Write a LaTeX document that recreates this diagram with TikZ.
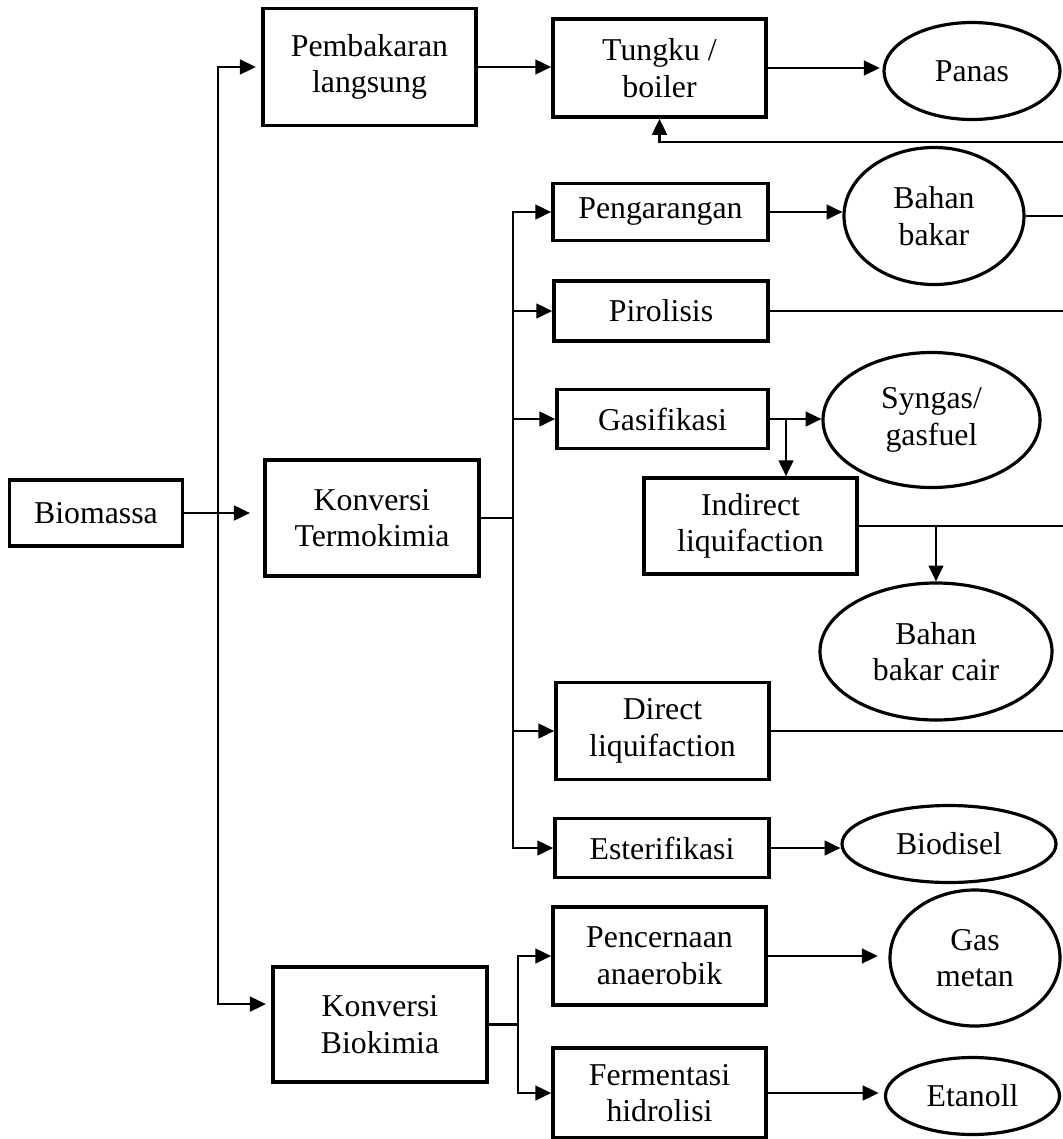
\documentclass[tikz,border=0pt]{standalone}
\usepackage{fontspec}
\setmainfont{Liberation Serif}
\usetikzlibrary{arrows.meta,positioning,shapes.geometric,calc}

\begin{document}
\begin{tikzpicture}[x=0.3774pt, y=-0.3774pt,
    box/.style 2 args={draw, line width=1.4pt, align=center, inner sep=0pt,
        minimum width=#1*0.3774pt, minimum height=#2*0.3774pt,
        font=\fontsize{12}{13.8}\selectfont},
    product/.style 2 args={draw, ellipse, line width=1.2pt, align=center, inner sep=0pt,
        minimum width=#1*0.3774pt, minimum height=#2*0.3774pt,
        font=\fontsize{12}{13.8}\selectfont},
    arr/.style={-{Triangle[length=6pt,width=5.6pt]}, line width=0.8pt},
    link/.style={line width=0.8pt}]
\useasboundingbox (0,0) rectangle (1063,1139);

% Source and main routes
\node[box={173}{66}] (bio) at (96,513) {Biomassa};
\node[box={213}{117}] (pl) at (369.5,67) {Pembakaran\\langsung};
\node[box={214}{116}] (kt) at (372,518) {Konversi\\Termokimia};
\node[box={214}{115}] (kb) at (380,1024.5) {Konversi\\Biokimia};

% Processes
\node[box={213}{98}] (tb) at (659.5,68) {Tungku /\\boiler};
\node[box={215}{57}] (peng) at (660.5,212) {Pengarangan};
\node[box={214}{60}] (pir) at (661,311) {Pirolisis};
\node[box={211}{59}] (gas) at (662.5,419) {Gasifikasi};
\node[box={213}{96}] (il) at (750.5,526) {Indirect\\liquifaction};
\node[box={213}{97}] (dl) at (662.5,731) {Direct\\liquifaction};
\node[box={214}{59}] (est) at (662,848) {Esterifikasi};
\node[box={213}{98}] (pa) at (659.5,956) {Pencernaan\\anaerobik};
\node[box={213}{90}] (fh) at (659.5,1093) {Fermentasi\\hidrolisi};

% Products
\node[product={176}{97}] (panas) at (972,71) {Panas};
\node[product={180}{137}] (bb) at (934,216) {Bahan\\bakar};
\node[product={217}{135}] (syn) at (931.5,420) {Syngas/\\gasfuel};
\node[product={232}{137}] (bbc) at (936,651.5) {Bahan\\bakar cair};
\node[product={214}{77}] (bd) at (949,844) {Biodisel};
\node[product={170}{136}] (gm) at (975,958) {Gas\\metan};
\node[product={174}{77}] (et) at (972.5,1096) {Etanoll};

% Branch points
\coordinate (j1) at (218,513);
\coordinate (j2) at (513,518);
\coordinate (j3) at (518,1024.5);
\coordinate (gb) at (786,419);
\coordinate (edge) at (1063,142);

% Biomassa to the three routes
\draw[arr, shorten >=5pt] (bio.east) -- (bio.east -| kt.west);
\draw[arr, shorten >=2pt] (j1) |- (pl.west);
\draw[arr, shorten >=2pt] (j1) |- ([yshift=7.7pt]kb.west);

% Direct combustion
\draw[arr] (pl.east) -- (pl.east -| tb.west);
\draw[arr, shorten >=1pt] (tb.east) -- (tb.east -| panas.west);
\draw[arr] (edge) -| (tb.south);

% Thermochemical
\draw[link] (kt.east) -- (j2);
\draw[arr] (j2) |- (peng.west);
\draw[arr] (j2) |- (est.west);
\foreach \n in {pir,gas,dl} {
    \draw[arr] (\n.west -| j2) -- (\n.west);
}
\draw[arr] (peng.east) -- (peng.east -| bb.west);
\draw[arr] (gas.east) -- (gas.east -| syn.west);
\draw[arr] (gb) -- (gb |- il.north);
\draw[arr] (il.east -| bbc.north) -- (bbc.north);
\draw[arr] (est.east) -- (est.east -| bd.west);
\foreach \n in {bb,pir,il,dl} {
    \draw[link] (\n.east) -- (\n.east -| edge);
}

% Biochemical
\draw[link] (kb.east) -- (j3);
\draw[arr] (j3) |- (pa.west);
\draw[arr] (j3) |- (fh.west);
\draw[arr, shorten >=4pt] (pa.east) -- (pa.east -| gm.west);
\draw[arr, shorten >=2pt] (fh.east) -- (fh.east -| et.west);
\end{tikzpicture}
\end{document}
